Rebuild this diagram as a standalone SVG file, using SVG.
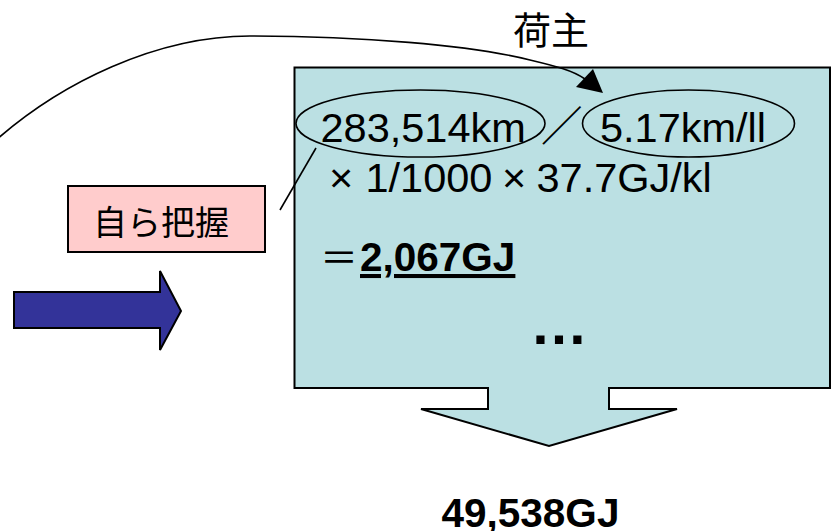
<svg xmlns="http://www.w3.org/2000/svg" width="831" height="531" viewBox="0 0 831 531">
<style>
.ln{fill:none;stroke:#000;stroke-width:1.6}
.t{font-family:"Liberation Sans",Arial,sans-serif;fill:#000}
.j{font-family:"Noto Sans CJK JP","Noto Sans CJK SC",sans-serif;fill:#000}
.b{font-weight:bold}
</style>
<rect width="831" height="531" fill="#fff"/>
<g id="calc-box">
<polygon points="294.5,67.5 830,67.5 830,388 609,388 609,409 677,409 549,446 421,409 488,409 488,388 294.5,388" fill="#BBE0E3" stroke="#000" stroke-width="2"/>
<ellipse cx="420.5" cy="123.5" rx="124.5" ry="33.5" class="ln"/>
<ellipse cx="688.5" cy="123.5" rx="106" ry="33.5" class="ln"/>
<text class="t" x="320.5" y="142" font-size="41.5">283,514km</text>
<text class="j" x="541" y="141" font-size="41.5">／</text>
<text class="t" x="600" y="142" font-size="41.5">5.17km/ll</text>
<text class="t" x="329" y="192" font-size="41.5">×</text>
<text class="t" x="365.5" y="192" font-size="41.5">1/1000</text>
<text class="t" x="502" y="192" font-size="41.5">×</text>
<text class="t" x="536.5" y="192" font-size="41.5">37.7GJ/kl</text>
<text class="j" x="320" y="271" font-size="38">＝</text>
<text class="t b" x="360" y="271" font-size="40.5" text-decoration="underline">2,067GJ</text>
<text class="t b" x="530" y="344.3" font-size="58">…</text>
</g>
<g id="self-grasp">
<rect x="68" y="186" width="197" height="66" fill="#FFCCCC" stroke="#000" stroke-width="2"/>
<text class="j" x="161" y="234.5" font-size="34" text-anchor="middle">自ら把握</text>
</g>
<g id="blue-arrow">
<polygon points="14,292 160,292 160,271 181,311 160,350 160,328 14,328" fill="#333399" stroke="#000" stroke-width="2"/>
</g>
<g id="shipper-label">
<text class="j" x="551" y="44" font-size="38" text-anchor="middle">荷主</text>
</g>
<g id="result">
<text class="t b" x="441.5" y="526.5" font-size="40.5">49,538GJ</text>
</g>
<g id="connectors">
<path class="ln" d="M -15,150 C 60,80 160,36 250,36 C 360,36 470,45 530,60 C 555,66 572,70 585,79"/>
<polygon points="603,93 576,87 593,69" fill="#000"/>
<line class="ln" x1="316" y1="148" x2="280" y2="210"/>
</g>
</svg>
